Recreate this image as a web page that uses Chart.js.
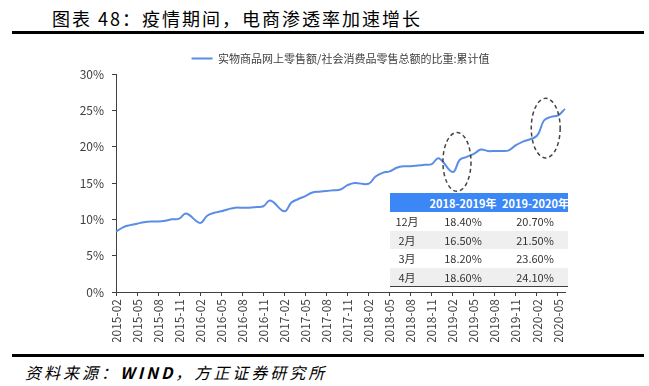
<!DOCTYPE html>
<html><head><meta charset="utf-8">
<script src="https://cdn.jsdelivr.net/npm/chart.js@4/dist/chart.umd.min.js"></script>
<style>
html,body{margin:0;padding:0;background:#fff;}
#page{position:relative;width:649px;height:386px;overflow:hidden;font-family:"Noto Sans CJK SC",sans-serif;}
#title{position:absolute;left:52px;top:5px;font-size:18px;letter-spacing:2px;color:#000;white-space:nowrap;line-height:26px;}
.rule{position:absolute;left:12px;width:632px;height:3px;background:#000;}
#src{position:absolute;left:25px;top:360px;font-size:16px;font-style:italic;letter-spacing:3px;white-space:nowrap;line-height:24px;color:#000;}
#wrap{position:absolute;left:40px;top:48px;width:560px;height:294px;}
#tbl{position:absolute;left:390px;top:193px;width:178px;border-collapse:collapse;table-layout:fixed;font-size:11px;color:#333;z-index:2;border-bottom:1px solid #404040;}
#tbl td,#tbl th{padding:0;text-align:center;white-space:nowrap;overflow:hidden;line-height:18px;height:18.5px;}
#tbl th{background:#3a87f5;color:#fff;font-weight:bold;height:19px;}
#tbl tr.g td{background:#efefef;}
</style>
</head><body>
<div id="page">
  <div id="title">图表 48：疫情期间，电商渗透率加速增长</div>
  <div class="rule" style="top:31px"></div>
  <div id="wrap"><canvas id="c"></canvas></div>
  <table id="tbl"></table>
  <div class="rule" style="top:354px"></div>
  <div id="src">资料来源：<b>WIND</b>，方正证券研究所</div>
</div>
<script>
// categories (monthly, 2015-02 .. 2020-06)
const categories = [
 '2015-02','2015-03','2015-04','2015-05','2015-06','2015-07','2015-08','2015-09','2015-10','2015-11','2015-12',
 '2016-01','2016-02','2016-03','2016-04','2016-05','2016-06','2016-07','2016-08','2016-09','2016-10','2016-11','2016-12',
 '2017-01','2017-02','2017-03','2017-04','2017-05','2017-06','2017-07','2017-08','2017-09','2017-10','2017-11','2017-12',
 '2018-01','2018-02','2018-03','2018-04','2018-05','2018-06','2018-07','2018-08','2018-09','2018-10','2018-11','2018-12',
 '2019-01','2019-02','2019-03','2019-04','2019-05','2019-06','2019-07','2019-08','2019-09','2019-10','2019-11','2019-12',
 '2020-01','2020-02','2020-03','2020-04','2020-05','2020-06'
];
// 实物商品网上零售额/社会消费品零售总额的比重:累计值 (%), January not published (null)
const shareValues = [
 8.3, 8.9, 9.2, 9.4, 9.6, 9.7, 9.7, 9.8, 10.0, 10.1, 10.8,
 null, 9.5, 10.5, 10.9, 11.1, 11.4, 11.6, 11.6, 11.6, 11.7, 11.8, 12.6,
 null, 11.1, 12.3, 12.8, 13.2, 13.7, 13.8, 13.9, 14.0, 14.1, 14.7, 15.0,
 null, 14.9, 15.9, 16.4, 16.6, 17.1, 17.3, 17.3, 17.4, 17.5, 17.6, 18.4,
 null, 16.5, 18.2, 18.6, 19.0, 19.6, 19.4, 19.4, 19.4, 19.5, 20.2, 20.7,
 null, 21.5, 23.6, 24.1, 24.3, 25.2
];
const seriesName = '实物商品网上零售额/社会消费品零售总额的比重:累计值';
const yTicks = [0, 5, 10, 15, 20, 25, 30];
// highlighted periods (category index, value, half-width in months, half-height in %)
const ellipses = [
 {x: 48.6, y: 17.9, dx: 2.0, dy: 4.05},
 {x: 61.25, y: 22.55, dx: 2.06, dy: 4.1}
];
// table
const tableHeaders = ['', '2018-2019年', '2019-2020年'];
const tableMonths = ['12月', '2月', '3月', '4月'];
const table1819 = ['18.40%', '16.50%', '18.20%', '18.60%'];
const table1920 = ['20.70%', '21.50%', '23.60%', '24.10%'];

(function buildTable(){
  const t = document.getElementById('tbl');
  const cg = document.createElement('colgroup');
  [34, 78, 66].forEach(w => { const c = document.createElement('col'); c.style.width = w + 'px'; cg.appendChild(c); });
  t.appendChild(cg);
  const hr = document.createElement('tr');
  tableHeaders.forEach(h => { const th = document.createElement('th'); th.textContent = h; hr.appendChild(th); });
  t.appendChild(hr);
  tableMonths.forEach((m, i) => {
    const tr = document.createElement('tr');
    if (i % 2 === 1) tr.className = 'g';
    [m, table1819[i], table1920[i]].forEach(v => { const td = document.createElement('td'); td.textContent = v; tr.appendChild(td); });
    t.appendChild(tr);
  });
})();

const lineColor = '#5a8de8';
const axisColor = '#404040';
const tickFont = {family: '"Noto Sans CJK SC", sans-serif', size: 12};

const ellipsePlugin = {
  id: 'ellipses',
  afterDatasetsDraw(chart) {
    const {ctx, scales: {x, y}} = chart;
    ctx.save();
    ctx.strokeStyle = '#444';
    ctx.lineWidth = 1.5;
    ctx.setLineDash([4, 3]);
    ellipses.forEach(e => {
      const cx = x.getPixelForValue(e.x), cy = y.getPixelForValue(e.y);
      const rx = Math.abs(x.getPixelForValue(e.x + e.dx) - cx);
      const ry = Math.abs(y.getPixelForValue(e.y + e.dy) - cy);
      ctx.beginPath();
      ctx.ellipse(cx, cy, rx, ry, 0, 0, Math.PI * 2);
      ctx.stroke();
    });
    ctx.restore();
  }
};

new Chart(document.getElementById('c'), {
  type: 'line',
  data: {
    labels: categories,
    datasets: [{
      label: seriesName,
      data: shareValues,
      borderColor: lineColor,
      backgroundColor: lineColor,
      borderWidth: 2,
      pointRadius: 0,
      tension: 0.4,
      spanGaps: true
    }]
  },
  options: {
    responsive: true,
    maintainAspectRatio: false,
    animation: false,
    layout: {padding: {left: 0, right: 35, top: 0, bottom: 0}},
    plugins: {
      tooltip: {enabled: false},
      legend: {
        position: 'top',
        fullSize: false,
        labels: {
          color: axisColor,
          font: {family: '"Noto Sans CJK SC", sans-serif', size: 11},
          boxWidth: 21,
          boxHeight: 2,
          padding: 5,
          generateLabels: (chart) => Chart.defaults.plugins.legend.labels.generateLabels(chart).map(l => Object.assign(l, {lineWidth: 0, fillStyle: lineColor}))
        }
      }
    },
    scales: {
      x: {
        type: 'category',
        afterFit: s => { s.height = 50; },
        grid: {display: true, drawOnChartArea: false, drawTicks: true, tickLength: 4, color: axisColor},
        border: {display: true, color: axisColor, width: 1},
        ticks: {
          autoSkip: false, maxRotation: 90, minRotation: 90, padding: 3,
          color: axisColor, font: tickFont,
          callback: (v, i) => (i % 3 === 0 ? categories[i] : null)
        }
      },
      y: {
        min: 0, max: 30,
        afterFit: s => { s.width = 76; },
        afterBuildTicks: s => { s.ticks = yTicks.map(v => ({value: v})); },
        grid: {display: true, drawOnChartArea: false, drawTicks: true, tickLength: 4, color: axisColor},
        border: {display: true, color: axisColor, width: 1},
        ticks: {color: axisColor, font: tickFont, padding: 8, callback: v => v + '%'}
      }
    }
  },
  plugins: [ellipsePlugin]
});
</script>
</body></html>
